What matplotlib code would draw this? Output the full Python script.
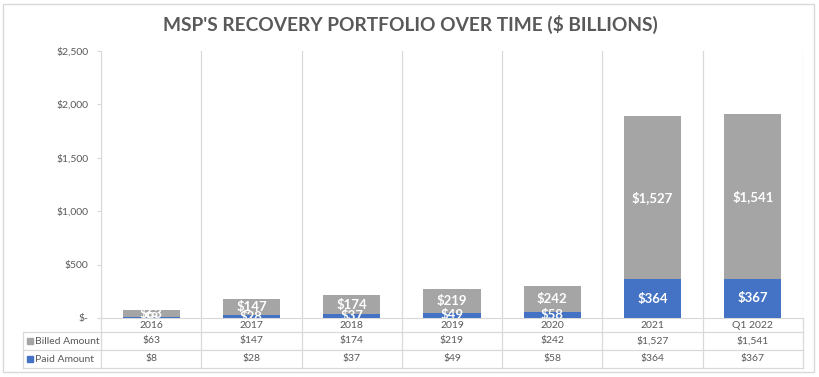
import matplotlib
matplotlib.use("Agg")
import matplotlib.pyplot as plt
from matplotlib.patches import Rectangle
import numpy as np

# ---- data ----
categories = ["2016", "2017", "2018", "2019", "2020", "2021", "Q1 2022"]
billed = [63, 147, 174, 219, 242, 1527, 1541]
paid = [8, 28, 37, 49, 58, 364, 367]
series_names = ["Billed Amount", "Paid Amount"]
yticks = [0, 500, 1000, 1500, 2000, 2500]
title = "MSP'S RECOVERY PORTFOLIO OVER TIME ($ BILLIONS)"

GRAY = "#A5A5A5"
BLUE = "#4472C4"
TXT = "#595959"
GRID = "#D9D9D9"
FONT = ["Lato", "DejaVu Sans"]

plt.rcParams["font.family"] = FONT

W, H = 820, 377
fig = plt.figure(figsize=(W / 100, H / 100), dpi=100)

def fx(px):
    return px / W

def fy(py):
    return 1 - py / H

# layout in pixels
PL, PR, PT, PB = 101, 803, 51, 318
TL, TB = 23, 368

ax = fig.add_axes([fx(PL), fy(PB), fx(PR - PL), (PB - PT) / H])
n = len(categories)
x = np.arange(n)
ax.set_xlim(-0.5, n - 0.5)
ax.set_ylim(0, 2500)

bw = 0.57
b_paid = ax.bar(x, paid, width=bw, color=BLUE, zorder=3)
b_billed = ax.bar(x, billed, width=bw, bottom=paid, color=GRAY, zorder=3)

lbl = lambda v: f"${v:,.0f}"
ax.bar_label(b_billed, labels=[lbl(v) for v in billed], label_type="center",
             color="white", fontsize=9.5, fontweight="bold", clip_on=True, zorder=5)
ax.bar_label(b_paid, labels=[lbl(v) for v in paid], label_type="center",
             color="white", fontsize=9.5, fontweight="bold", clip_on=True, zorder=5)

for k in range(n + 1):
    ax.axvline(k - 0.5, color=GRID, lw=0.9, zorder=1)

for s in ["top", "right"]:
    ax.spines[s].set_visible(False)
ax.spines["left"].set_color(GRID)
ax.spines["bottom"].set_color(GRID)
ax.set_xticks([])
ax.set_yticks(yticks)
ax.set_yticklabels([f"${v:,.0f}" if v else "$-" for v in yticks])
ax.tick_params(axis="y", length=3, color=GRID, pad=6, labelsize=7.5, labelcolor=TXT)

# ---- data table ----
units_per_px = (n) / (PR - PL)
xl = -0.5 - (PL - TL) * units_per_px
tax = fig.add_axes([fx(TL), fy(TB), fx(PR - TL), (TB - PB) / H])
tax.set_xlim(xl, n - 0.5)
tax.set_ylim(0, TB - PB)
tax.axis("off")
top = TB - PB
r1, r2 = 36, 18
for yy in [r1, r2, 0]:
    tax.plot([xl, n - 0.5], [yy, yy], color=GRID, lw=0.9, clip_on=False)
tax.plot([xl, xl], [0, r1], color=GRID, lw=0.9, clip_on=False)
for k in range(n + 1):
    tax.plot([k - 0.5, k - 0.5], [0, top], color=GRID, lw=0.9, clip_on=False)

for i, c in enumerate(categories):
    tax.text(i, (top + r1) / 2 - 0.5, c, ha="center", va="center", fontsize=7.5, color=TXT)
    tax.text(i, (r1 + r2) / 2, lbl(billed[i]), ha="center", va="center", fontsize=7.5, color=TXT)
    tax.text(i, r2 / 2, lbl(paid[i]), ha="center", va="center", fontsize=7.5, color=TXT)

for name, col, yy in [(series_names[0], GRAY, (r1 + r2) / 2), (series_names[1], BLUE, r2 / 2)]:
    tax.plot([xl + 7 * units_per_px], [yy], marker="s", ms=4, color=col, clip_on=False)
    tax.text(xl + 12 * units_per_px, yy, name, ha="left", va="center", fontsize=7.5, color=TXT)

# ---- title and frame ----
fig.text(0.5, fy(24), title, ha="center", va="center", fontsize=13.8,
         fontweight="bold", color=TXT)
fig.patches.append(Rectangle((fx(3), fy(372)), fx(814 - 3), (372 - 4) / H,
                             transform=fig.transFigure, fill=False,
                             edgecolor=GRID, lw=1))

fig.savefig("out.png", dpi=100)
